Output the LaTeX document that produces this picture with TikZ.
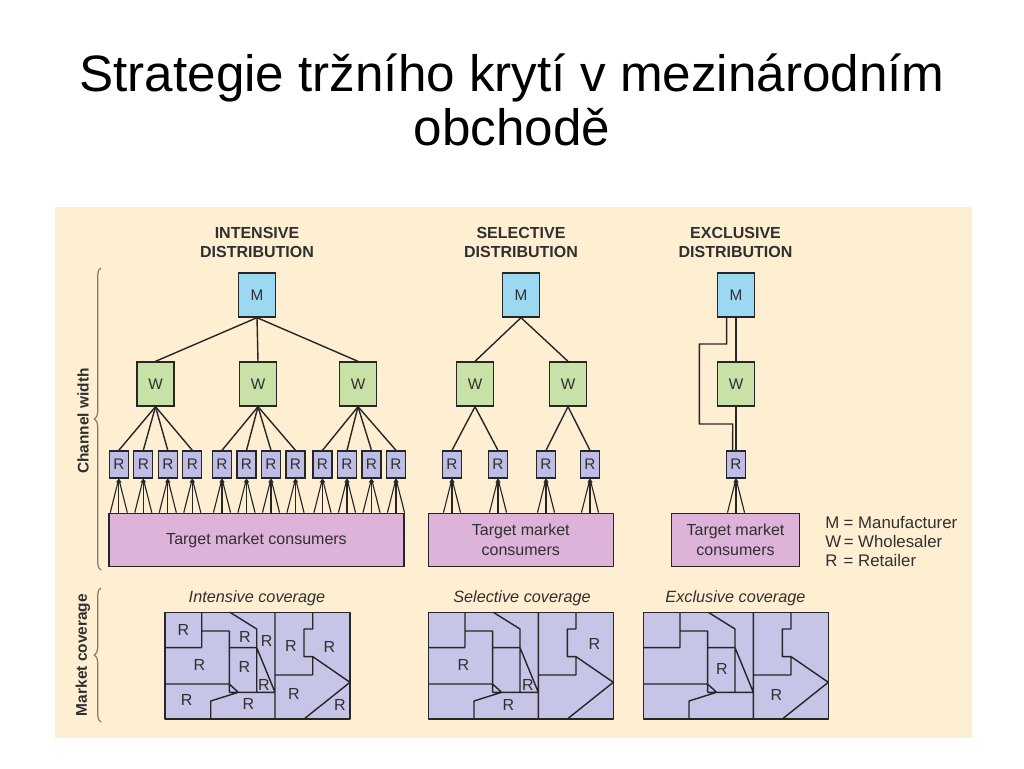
\documentclass[tikz,border=0pt]{standalone}
\usepackage{fontspec}
\setmainfont{Liberation Sans}
\usetikzlibrary{arrows.meta,decorations.pathreplacing}
\definecolor{panel}{HTML}{FEEFD3}
\definecolor{mfill}{HTML}{9DD8F3}
\definecolor{wfill}{HTML}{C7E1A6}
\definecolor{rfill}{HTML}{BEBDE6}
\definecolor{cfill}{HTML}{DDB3DA}
\definecolor{mapfill}{HTML}{C6C5E8}
\definecolor{linec}{HTML}{262626}
\definecolor{txt}{HTML}{303030}
\definecolor{bracec}{HTML}{857A69}
\tikzset{
  boxbase/.style={draw=linec, line width=1pt, inner sep=0pt, text=txt, font=\fontsize{11.5}{13}\selectfont},
  mbox/.style={boxbase, fill=mfill, minimum width=27.75pt, minimum height=33pt},
  wbox/.style={boxbase, fill=wfill, minimum width=27.75pt, minimum height=33pt},
  rbox/.style={boxbase, fill=rfill, minimum width=14.25pt, minimum height=20.25pt},
  cbox/.style={boxbase, fill=cfill, minimum height=40pt, align=center, font=\fontsize{12}{15}\selectfont},
  conn/.style={draw=linec, line width=1.05pt},
  fan/.style={draw=linec, line width=0.85pt, -{Stealth[length=3.2pt,width=2.8pt]}},
  head/.style={align=center, text=txt, font=\bfseries\fontsize{12}{14.25}\selectfont},
  legendtxt/.style={anchor=west, text=txt, inner sep=0pt, font=\fontsize{12.6}{15}\selectfont},
  sidelbl/.style={text=txt, inner sep=0pt, font=\bfseries\fontsize{11.6}{14}\selectfont},
  maptitle/.style={text=txt, inner sep=0pt, font=\itshape\fontsize{12.2}{14}\selectfont},
  maplbl/.style={text=txt, inner sep=0pt, font=\fontsize{12}{14}\selectfont},
  bracest/.style={draw=bracec, line width=0.9pt, decorate, decoration={brace, amplitude=5pt}},
  mapline/.style={draw=linec, line width=1.05pt, line join=round},
  titlestyle/.style={text=black, inner sep=0pt, font=\fontsize{38.4}{46}\selectfont},
  covmap/.pic={
    \fill[mapfill] (0,0) rectangle (185,106.7);
    \draw[mapline] (36.7,0) -- (36.7,35.3) (0,35.3) -- (36.7,35.3)
      (36.7,18.7) -- (64.3,18.7) -- (64.3,80)
      (64.3,35.3) -- (91.7,35.3)
      (65,0) -- (91.7,16.7) -- (91.7,80)
      (91.7,35.3) -- (110,80)
      (0,71.7) -- (64.3,71.7) -- (73.3,80) -- (45.7,88.7) -- (45.7,106.7)
      (64.3,80) -- (110,80)
      (110,0) -- (110,106.7)
      (147.7,0) -- (147.7,16.7) -- (139,16.7) -- (139,44.3) -- (147.7,44.3) -- (147.7,62.7)
      (110,62.7) -- (147.7,62.7)
      (147.7,44.3) -- (185,70) -- (139,106.7);
    \draw[mapline] (0,0) rectangle (185,106.7);
  }
}
\begin{document}
\begin{tikzpicture}[x=0.75pt,y=-0.75pt]
\useasboundingbox (0,0) rectangle (1024,768);
\fill[white] (0,0) rectangle (1024,768);
\fill[panel] (55,206.7) rectangle (971.7,738.3);

% title
\node[titlestyle, anchor=base] (t1) at (512,91.7) {Strategie tržního krytí v mezinárodním};
\node[titlestyle, anchor=base] (t2) at (512,145) {obchodě};

% headings
\node[head] (ih) at (257,242.5) {INTENSIVE\\DISTRIBUTION};
\node[head] (sh) at (521,242.5) {SELECTIVE\\DISTRIBUTION};
\node[head] (eh) at (735.5,242.5) {EXCLUSIVE\\DISTRIBUTION};

% ---------- intensive ----------
\node[mbox] (im) at (257,295) {M};
\node[wbox] (iw1) at (155.5,384) {W};
\node[wbox] (iw2) at (258,384) {W};
\node[wbox] (iw3) at (358,384) {W};
\foreach \n/\x in {1/118.8,2/143.3,3/167.8,4/192.3,5/222,6/246.5,7/271,8/295.5,9/322.5,10/347,11/371.5,12/396}
  \node[rbox] (ir\n) at (\x,464.5) {R};
\node[cbox, minimum width=221.25pt] (ic) at (256.5,540) {Target market consumers};
\foreach \w in {1,2,3} \draw[conn] (im.south) -- (iw\w.north);
\foreach \w/\a/\b/\c/\d in {1/1/2/3/4,2/5/6/7/8,3/9/10/11/12}
  \foreach \r in {\a,\b,\c,\d} \draw[conn] (iw\w.south) -- (ir\r.north);
\foreach \r in {1,...,12}
  \foreach \s in {-6.4,0,6.4} \draw[fan] ([xshift=\s pt]ir\r.south |- ic.north) -- (ir\r.south);

% ---------- selective ----------
\node[mbox] (sm) at (521,295) {M};
\node[wbox] (sw1) at (475,384) {W};
\node[wbox] (sw2) at (568,384) {W};
\foreach \n/\x in {1/452,2/498,3/546,4/590}
  \node[rbox] (sr\n) at (\x,464.5) {R};
\node[cbox, minimum width=138.75pt] (sc) at (520.8,540) {Target market\\consumers};
\foreach \w in {1,2} \draw[conn] (sm.south) -- (sw\w.north);
\foreach \w/\a/\b in {1/1/2,2/3/4}
  \foreach \r in {\a,\b} \draw[conn] (sw\w.south) -- (sr\r.north);
\foreach \r in {1,...,4}
  \foreach \s in {-6.4,0,6.4} \draw[fan] ([xshift=\s pt]sr\r.south |- sc.north) -- (sr\r.south);

% ---------- exclusive ----------
\node[mbox] (em) at (736,295) {M};
\node[wbox] (ew) at (736,384) {W};
\node[rbox] (er) at (736,464.5) {R};
\node[cbox, minimum width=95.7pt] (ec) at (735.5,540) {Target market\\consumers};
\draw[conn] (em.south) -- (ew.north);
\draw[conn] (ew.south) -- (er.north);
\coordinate (eb1) at (699.3,344);
\coordinate (eb2) at (732.7,424);
\draw[conn] ([xshift=-7pt]em.south) |- (eb1) |- (eb2) -- ([xshift=-2.5pt]er.north);
\foreach \s in {-6.4,0,6.4} \draw[fan] ([xshift=\s pt]er.south |- ec.north) -- (er.south);

% legend
\node[legendtxt] (lg1) at (825,522.7) {\makebox[1.1em][l]{M}= Manufacturer};
\node[legendtxt] (lg2) at (825,541) {\makebox[1.1em][l]{W}= Wholesaler};
\node[legendtxt] (lg3) at (825,560) {\makebox[1.1em][l]{R}= Retailer};

% braces and side labels
\draw[bracest] (101,570) -- (101,268);
\draw[bracest] (101,722) -- (101,588);
\node[sidelbl, rotate=90] (cw) at (83,421) {Channel width};
\node[sidelbl, rotate=90] (mcv) at (83,655) {Market coverage};

% ---------- coverage maps ----------
\node[maptitle] (imt) at (257,598) {Intensive coverage};
\node[maptitle] (smt) at (522,598) {Selective coverage};
\node[maptitle] (emt) at (735.5,598) {Exclusive coverage};

\pic (imap) at (165,612.3) {covmap};
\pic (smap) at (428.3,612.3) {covmap};
\pic (emap) at (643.3,612.3) {covmap};

\begin{scope}[shift={(165,612.3)}]
  \foreach \n/\u/\v in {1/18.3/17.7,2/80/24.3,3/101.7/28.7,4/126/33.3,5/164.3/34.3,6/34.3/52.7,
      7/79.3/54.3,8/99/72.7,9/21.7/87.7,10/83.3/92,11/129/82,12/175/92.7}
    \node[maplbl] (il\n) at (\u,\v) {R};
\end{scope}
\begin{scope}[shift={(428.3,612.3)}]
  \foreach \n/\u/\v in {1/35/52.7,2/166/32,3/99.5/72.7,4/80/93}
    \node[maplbl] (sl\n) at (\u,\v) {R};
\end{scope}
\begin{scope}[shift={(643.3,612.3)}]
  \foreach \n/\u/\v in {1/78.5/57,2/133/83}
    \node[maplbl] (el\n) at (\u,\v) {R};
\end{scope}
\end{tikzpicture}
\end{document}
